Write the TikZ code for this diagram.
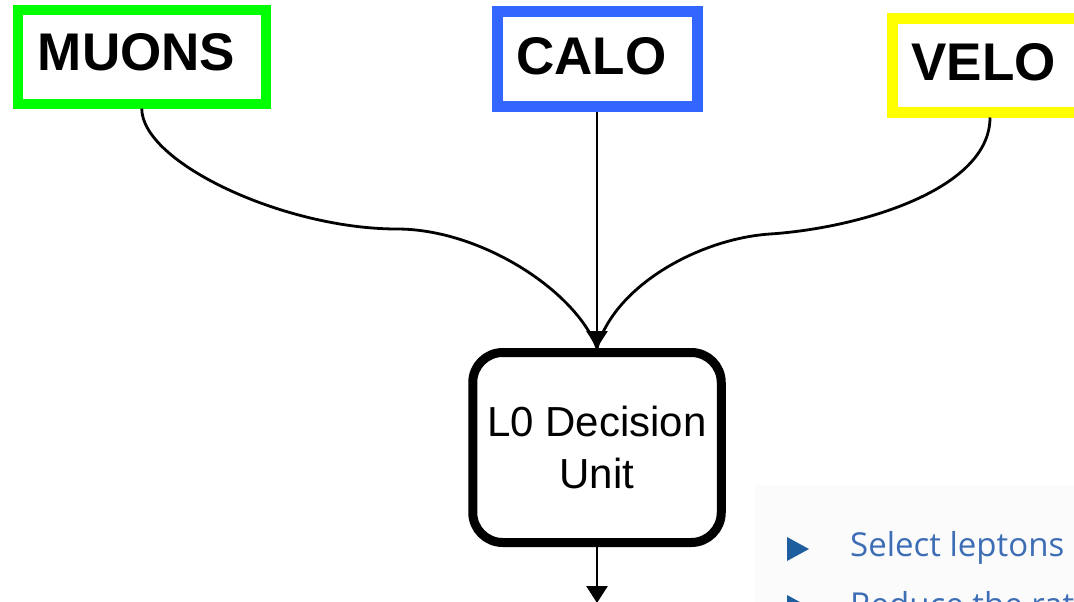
\documentclass[tikz,border=0pt]{standalone}
\usepackage{fontspec}
\setmainfont{Liberation Sans}
\newfontfamily\bulletfont{Open Sans}
\usetikzlibrary{arrows.meta}
\definecolor{muongreen}{HTML}{00FF00}
\definecolor{caloblue}{HTML}{3366FF}
\definecolor{veloyellow}{HTML}{FFFF00}
\definecolor{slideblue}{HTML}{3D6DB5}
\definecolor{bulletblue}{HTML}{1E5E9E}
\begin{document}
\begin{tikzpicture}[x=1pt,y=-1pt,
  detector/.style={draw, rectangle, inner sep=0pt},
  detlabel/.style={inner sep=0pt, font=\bfseries\fontsize{53}{60}\selectfont},
  unit/.style={draw, line width=9pt, rounded corners=30pt, minimum width=248.5pt,
    minimum height=190pt, align=center, inner sep=0pt, font=\fontsize{42}{52}\selectfont},
  wire/.style={line width=2.8pt},
  feed/.style={wire, -{Triangle[width=21pt,length=17pt]}},
  bullettext/.style={anchor=base west, inner sep=0pt, text=slideblue,
    font=\bulletfont\fontsize{33}{38}\selectfont},
]
\clip (0,0) rectangle (1074,602);
\fill[white] (0,0) rectangle (1074,602);

% slide excerpt in the lower right corner
\fill[gray!3] (755,485) rectangle (1074,602);
\fill[bulletblue] (787,537) -- (787,561) -- (809,549) -- cycle;
\node[bullettext] (sel) at (850,556) {Select leptons};
\fill[bulletblue] (787,595) -- (787,619) -- (809,607) -- cycle;
\node[bullettext] (red) at (850,616) {Reduce the rate};

% detector boxes
\node[detector, draw=muongreen, line width=10pt, minimum width=247.5pt, minimum height=93.5pt]
  (muons) at (141.75,56.75) {};
\node[detector, draw=caloblue, line width=11pt, minimum width=200pt, minimum height=94.5pt]
  (calo) at (597,59.25) {};
\node[detector, draw=veloyellow, line width=11pt, minimum width=195pt, minimum height=93.5pt]
  (velo) at (990,65.25) {};

\node[detlabel] (muonsT) at (136.5,52.5) {MUONS};
\node[detlabel] (caloT) at (591.5,56.5) {CALO};
\node[detlabel] (veloT) at (983.5,62) {VELO};

% decision unit
\node[unit] (dec) at (597,447.5) {L0 Decision\\Unit};
\coordinate (out) at (597,603);

% connections
\draw[wire] (muons.south) .. controls +(0,54) and (284,229) .. (397,229)
  .. controls (480,229) and (575,290) .. (dec.north);
\draw[wire] (velo.south) .. controls +(0,72) and (860,228) .. (770,234)
  .. controls (700,238.7) and (615,285) .. (dec.north);
\draw[feed] (calo.south) -- (dec.north);
\draw[feed] (dec.south) -- (out);
\end{tikzpicture}
\end{document}
